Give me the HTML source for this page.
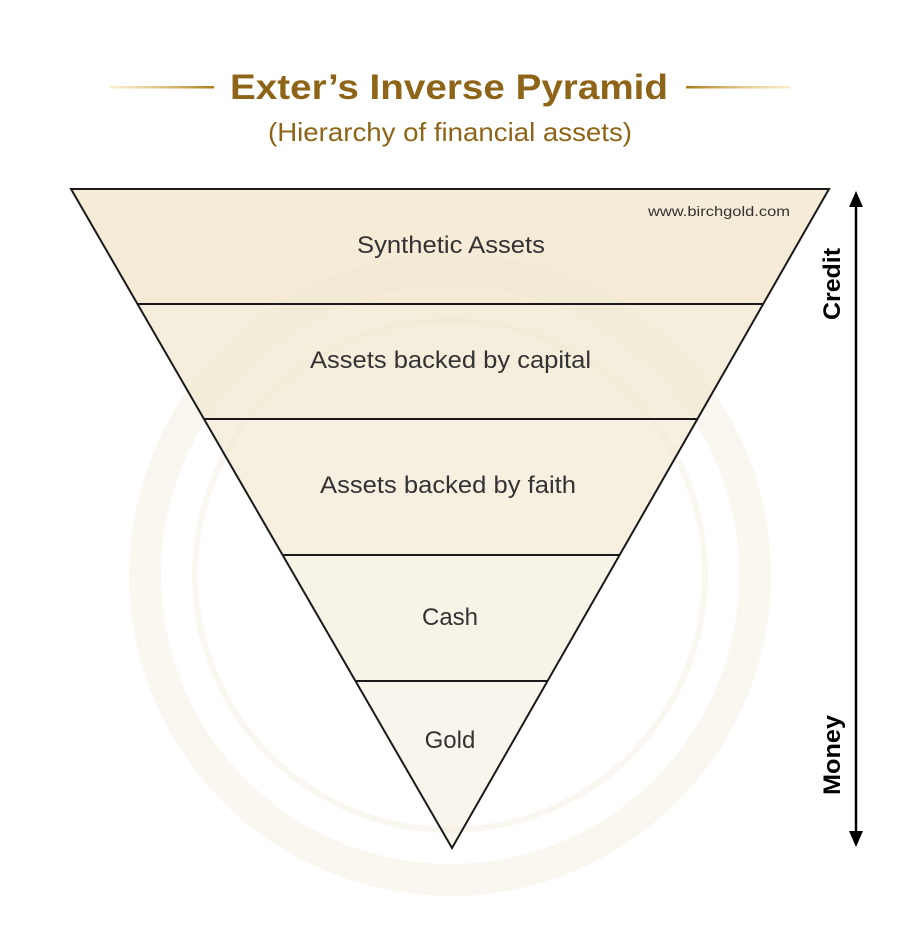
<!DOCTYPE html>
<html><head><style>
body{margin:0;background:#fff;}
svg{display:block}
</style></head><body>
<svg width="900" height="940" viewBox="0 0 900 940" xmlns="http://www.w3.org/2000/svg" font-family="Liberation Sans, sans-serif">
<defs>
<linearGradient id="lg" x1="0" x2="1"><stop offset="0" stop-color="#f0c560" stop-opacity="0.3"/><stop offset="1" stop-color="#a77c1a"/></linearGradient>
<linearGradient id="rg" x1="0" x2="1"><stop offset="0" stop-color="#a77c1a"/><stop offset="1" stop-color="#f0c560" stop-opacity="0.3"/></linearGradient>
</defs>
<rect x="110" y="86" width="104" height="2.5" fill="url(#lg)"/>
<rect x="686" y="86" width="104" height="2.5" fill="url(#rg)"/>
<text x="230" y="99" textLength="438" lengthAdjust="spacingAndGlyphs" font-size="35" font-weight="bold" fill="#8e6518">Exter’s Inverse Pyramid</text>
<text x="268" y="141" textLength="364" lengthAdjust="spacingAndGlyphs" font-size="26" fill="#8e6518">(Hierarchy of financial assets)</text>
<polygon points="71,189 829,189 763,304 137.5,304" fill="#f5ebd6"/>
<polygon points="137.5,304 763,304 697,419 204,419" fill="#f6eedc"/>
<polygon points="204,419 697,419 619,555 282.6,555" fill="#f7f0e1"/>
<polygon points="282.6,555 619,555 547,681 355.4,681" fill="#f8f3e7"/>
<polygon points="355.4,681 547,681 452,848" fill="#f9f5ec"/>
<circle cx="450" cy="575" r="305" fill="none" stroke="#efe7d4" stroke-width="32" opacity="0.35"/>
<circle cx="450" cy="575" r="255" fill="none" stroke="#efe7d4" stroke-width="6" opacity="0.35"/>
<g stroke="#1a1a1a" stroke-width="2" fill="none">
<polygon points="71,189 829,189 452,848"/>
<line x1="137.5" y1="304" x2="763" y2="304"/>
<line x1="204" y1="419" x2="697" y2="419"/>
<line x1="282.6" y1="555" x2="619" y2="555"/>
<line x1="355.4" y1="681" x2="547" y2="681"/>
</g>
<text x="648" y="216" textLength="142" lengthAdjust="spacingAndGlyphs" font-size="14" fill="#333">www.birchgold.com</text>
<g font-size="24" fill="#333" text-anchor="middle">
<text x="451" y="253" textLength="188" lengthAdjust="spacingAndGlyphs">Synthetic Assets</text>
<text x="450.5" y="368" textLength="281" lengthAdjust="spacingAndGlyphs">Assets backed by capital</text>
<text x="448" y="493" textLength="256" lengthAdjust="spacingAndGlyphs">Assets backed by faith</text>
<text x="450" y="625">Cash</text>
<text x="450" y="748">Gold</text>
</g>
<line x1="856" y1="200" x2="856" y2="838" stroke="#000" stroke-width="2.5"/>
<polygon points="856,191 849,207 863,207" fill="#000"/>
<polygon points="856,847 849,831 863,831" fill="#000"/>
<text transform="translate(840,284) rotate(-90)" text-anchor="middle" font-size="24" font-weight="bold" fill="#000" textLength="72" lengthAdjust="spacingAndGlyphs">Credit</text>
<text transform="translate(840,755) rotate(-90)" text-anchor="middle" font-size="24" font-weight="bold" fill="#000" textLength="80" lengthAdjust="spacingAndGlyphs">Money</text>
</svg>
</body></html>
